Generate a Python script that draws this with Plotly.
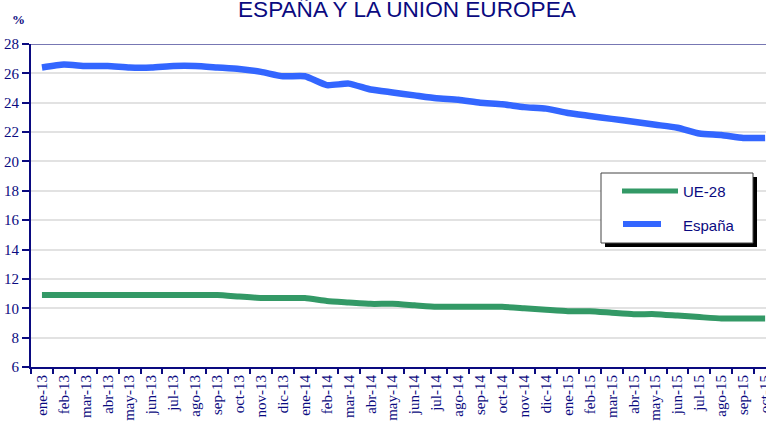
import plotly.graph_objects as go

months = ["ene-13", "feb-13", "mar-13", "abr-13", "may-13", "jun-13", "jul-13", "ago-13",
          "sep-13", "oct-13", "nov-13", "dic-13", "ene-14", "feb-14", "mar-14", "abr-14",
          "may-14", "jun-14", "jul-14", "ago-14", "sep-14", "oct-14", "nov-14", "dic-14",
          "ene-15", "feb-15", "mar-15", "abr-15", "may-15", "jun-15", "jul-15", "ago-15",
          "sep-15", "oct-15"]

espana = [26.4, 26.6, 26.5, 26.5, 26.4, 26.4, 26.5, 26.5, 26.4, 26.3, 26.1, 25.8,
          25.8, 25.2, 25.3, 24.9, 24.7, 24.5, 24.3, 24.2, 24.0, 23.9, 23.7, 23.6,
          23.3, 23.1, 22.9, 22.7, 22.5, 22.3, 21.9, 21.8, 21.6, 21.6]

ue28 = [10.9, 10.9, 10.9, 10.9, 10.9, 10.9, 10.9, 10.9, 10.9, 10.8, 10.7, 10.7,
        10.7, 10.5, 10.4, 10.3, 10.3, 10.2, 10.1, 10.1, 10.1, 10.1, 10.0, 9.9,
        9.8, 9.8, 9.7, 9.6, 9.6, 9.5, 9.4, 9.3, 9.3, 9.3]

y_ticks = list(range(6, 29, 2))

NAVY = "#0a0a80"
W, H = 766, 424
L, R, T, B = 31, 0, 44, 57
PW, PH = W - L - R, H - T - B


def px(x):
    return (x - L) / PW


def py(y):
    return (H - B - y) / PH


fig = go.Figure()
fig.add_trace(go.Scatter(x=months, y=ue28, mode="lines", name="UE-28",
                         line=dict(color="#339966", width=6, shape="spline", smoothing=0.5),
                         showlegend=False))
fig.add_trace(go.Scatter(x=months, y=espana, mode="lines", name="España",
                         line=dict(color="#3366ff", width=6.5, shape="spline", smoothing=0.5),
                         showlegend=False))

shapes = [
    dict(type="line", xref="paper", yref="y", x0=0, x1=1, y0=28, y1=28,
         line=dict(color="#4a4a9a", width=1.5)),
    dict(type="rect", xref="paper", yref="paper", x0=px(605), x1=px(757), y0=py(177), y1=py(247),
         fillcolor="black", line=dict(width=0)),
    dict(type="rect", xref="paper", yref="paper", x0=px(601), x1=px(753), y0=py(173), y1=py(243),
         fillcolor="white", line=dict(color="#444444", width=1)),
    dict(type="line", xref="paper", yref="paper", x0=px(622), x1=px(678), y0=py(191), y1=py(191),
         line=dict(color="#339966", width=5)),
    dict(type="line", xref="paper", yref="paper", x0=px(623), x1=px(661), y0=py(224), y1=py(224),
         line=dict(color="#3366ff", width=6)),
]

annotations = [
    dict(text="ESPAÑA Y LA UNIÓN EUROPEA", xref="paper", yref="paper", x=px(407), y=py(10),
         xanchor="center", yanchor="middle", showarrow=False,
         font=dict(family="Liberation Sans, Arial", size=22.6, color=NAVY)),
    dict(text="<b>%</b>", xref="paper", yref="paper", x=px(18), y=py(19),
         xanchor="center", yanchor="middle", showarrow=False,
         font=dict(family="Liberation Serif, Times New Roman", size=13, color=NAVY)),
    dict(text="UE-28", xref="paper", yref="paper", x=px(681), y=py(191),
         xanchor="left", yanchor="middle", showarrow=False,
         font=dict(family="Liberation Sans, Arial", size=15, color=NAVY)),
    dict(text="España", xref="paper", yref="paper", x=px(681), y=py(225),
         xanchor="left", yanchor="middle", showarrow=False,
         font=dict(family="Liberation Sans, Arial", size=15, color=NAVY)),
]

fig.update_layout(
    width=W, height=H,
    margin=dict(l=L, r=R, t=T, b=B, pad=0),
    paper_bgcolor="white", plot_bgcolor="white",
    shapes=shapes, annotations=annotations,
    showlegend=False,
)

fig.update_xaxes(
    type="category", range=[-0.5, 33.04], automargin=False,
    showline=True, linecolor=NAVY, linewidth=2,
    ticks="outside", tickson="boundaries", ticklen=5, tickcolor=NAVY, tickwidth=1.5,
    tickangle=-90, showgrid=False,
    tickfont=dict(family="Liberation Serif, Times New Roman", size=15, color=NAVY),
)
fig.update_yaxes(
    range=[6, 28], tickvals=y_ticks, automargin=False,
    showline=True, linecolor=NAVY, linewidth=2,
    ticks="outside", ticklen=7, tickcolor=NAVY, tickwidth=1.5,
    showgrid=True, gridcolor="#e2e2e2", gridwidth=1.5, zeroline=False,
    tickfont=dict(family="Liberation Serif, Times New Roman", size=15, color=NAVY),
)

fig.write_html("out.html", config={"displayModeBar": False},
               post_script="document.body.style.margin='0';document.body.style.overflow='hidden';")
